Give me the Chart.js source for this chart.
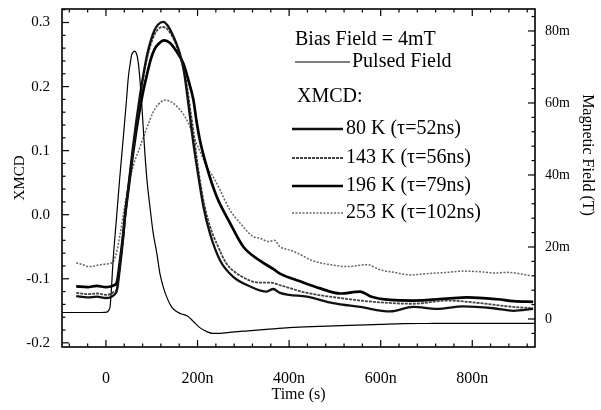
<!DOCTYPE html>
<html><head><meta charset="utf-8">
<script src="https://cdn.jsdelivr.net/npm/chart.js@4/dist/chart.umd.min.js"></script>
<style>html,body{margin:0;padding:0;background:#fff}canvas{display:block}</style>
</head><body>
<canvas id="c" width="601" height="410"></canvas>
<script>
// ---------- tick labels ----------
const xTickValues = [0, 200, 400, 600, 800];
const xTickLabels = ['0', '200n', '400n', '600n', '800n'];
const yTickValues = [-0.2, -0.1, 0, 0.1, 0.2, 0.3];
const yTickLabels = ['-0.2', '-0.1', '0.0', '0.1', '0.2', '0.3'];
const y2TickValues = [0, 20, 40, 60, 80];
const y2TickLabels = ['0', '20m', '40m', '60m', '80m'];
const xTitle = 'Time (s)';
const yTitle = 'XMCD';
const y2Title = 'Magnetic Field (T)';
const legendHeader = 'Bias Field = 4mT';
const legendGroupTitle = 'XMCD:';
const seriesLabels = ['Pulsed Field', '80 K (τ=52ns)', '143 K (τ=56ns)', '196 K (τ=79ns)', '253 K (τ=102ns)'];

// ---------- series (time in ns) ----------
const pulseTime = [-96,-50,-10,2,6,9,16,23,30,38,44,49,53,56,60,63,66,69,73,78,85,90,96,103,111,118,126,133,144,155,165,178,191,205,220,234,250,265,280,310,350,400,450,530,600,650,700,780,850,937];
const pulseField = [1.8,1.8,1.8,1.9,2.4,3.4,17,28,39,50.6,59.5,67.3,71,73.3,74.2,74.4,73.9,72.5,68.3,60,46,38,31.2,24,18.3,12.5,8.5,6.0,3.2,2.0,1.4,0.8,-0.7,-2.4,-3.5,-4.0,-4.0,-3.8,-3.6,-3.3,-2.9,-2.4,-2.1,-1.8,-1.5,-1.3,-1.25,-1.2,-1.2,-1.2];

const t80K = [-65,-40,-20,0,10,18,24,31,37,42,50,58,66,74,82,90,98,106,114,125,135,145,155,162,170,176,184,191,202,213,227,249,278,315,351,365,380,400,439,496,555,621,671,723,780,846,890,933];
const v80K = [-0.127,-0.129,-0.128,-0.130,-0.129,-0.125,-0.118,-0.08,-0.04,0.0,0.05,0.10,0.145,0.185,0.22,0.25,0.272,0.288,0.297,0.301,0.295,0.282,0.265,0.25,0.225,0.195,0.15,0.111,0.059,0.012,-0.029,-0.071,-0.097,-0.112,-0.120,-0.116,-0.122,-0.125,-0.128,-0.138,-0.144,-0.151,-0.144,-0.147,-0.143,-0.146,-0.150,-0.147];

const t143K = [-65,-40,-20,0,10,18,24,31,37,42,50,58,66,74,82,90,98,106,114,125,135,145,155,165,176,184,191,198,206,215,228,245,262,293,336,360,380,439,511,584,671,745,817,890,933];
const v143K = [-0.122,-0.124,-0.123,-0.125,-0.124,-0.120,-0.115,-0.075,-0.038,0.0,0.048,0.095,0.14,0.18,0.215,0.245,0.266,0.281,0.29,0.293,0.289,0.278,0.262,0.24,0.205,0.165,0.13,0.09,0.05,0.015,-0.02,-0.05,-0.075,-0.095,-0.106,-0.106,-0.110,-0.122,-0.130,-0.136,-0.139,-0.134,-0.138,-0.144,-0.146];

const t196K = [-65,-40,-20,0,10,18,24,31,37,42,50,58,66,74,82,90,98,106,114,127,140,154,169,180,191,198,205,220,242,271,300,337,366,380,424,468,511,555,580,621,671,745,789,855,890,933];
const v196K = [-0.112,-0.113,-0.111,-0.113,-0.112,-0.110,-0.105,-0.07,-0.035,0.0,0.045,0.09,0.13,0.165,0.195,0.22,0.243,0.258,0.266,0.272,0.268,0.255,0.236,0.21,0.179,0.145,0.117,0.075,0.028,-0.013,-0.050,-0.072,-0.085,-0.092,-0.104,-0.115,-0.123,-0.120,-0.128,-0.133,-0.134,-0.131,-0.129,-0.132,-0.135,-0.136];

const t253K = [-65,-50,-39,-25,-13,0,13,22,31,45,59,74,89,103,114,129,145,155,168,180,190,200,212,220,235,249,260,271,282,293,307,321,337,355,368,380,395,409,424,452,490,527,570,599,630,664,700,745,780,817,850,876,927];
const v253K = [-0.075,-0.078,-0.081,-0.080,-0.078,-0.077,-0.075,-0.062,-0.03,0.03,0.075,0.105,0.135,0.160,0.172,0.179,0.175,0.169,0.158,0.143,0.125,0.108,0.088,0.075,0.058,0.039,0.022,0.007,-0.004,-0.013,-0.025,-0.034,-0.037,-0.042,-0.040,-0.050,-0.054,-0.057,-0.062,-0.072,-0.078,-0.081,-0.078,-0.086,-0.090,-0.094,-0.092,-0.090,-0.088,-0.089,-0.091,-0.090,-0.095];

const pts = (xs, ys) => xs.map((x, i) => ({x: x, y: ys[i]}));
const SERIF = "'Liberation Serif', 'Times New Roman', serif";

const styles = [
  {color: '#000', width: 1.2, dash: []},
  {color: '#111', width: 2.3, dash: []},
  {color: '#444', width: 1.8, dash: [3, 1]},
  {color: '#000', width: 2.7, dash: []},
  {color: '#666', width: 1.5, dash: [2, 1.5]}
];
const seriesData = [pts(pulseTime, pulseField), pts(t80K, v80K), pts(t143K, v143K), pts(t196K, v196K), pts(t253K, v253K)];

const datasets = seriesData.map((d, i) => ({
  label: seriesLabels[i],
  data: d,
  yAxisID: i === 0 ? 'y1' : 'y',
  borderColor: styles[i].color,
  borderWidth: styles[i].width,
  borderDash: styles[i].dash,
  pointRadius: 0,
  fill: false,
  cubicInterpolationMode: 'monotone'
}));

const framePlugin = {
  id: 'frameTicks',
  afterDatasetsDraw(chart) {
    const {ctx, chartArea: a, scales} = chart;
    ctx.save();
    ctx.strokeStyle = '#000';
    ctx.lineWidth = 1.6;
    ctx.setLineDash([]);
    ctx.strokeRect(a.left, a.top, a.right - a.left, a.bottom - a.top);
    ctx.lineWidth = 1.2;
    const sx = scales.x, sy = scales.y, sy2 = scales.y1;
    const tick = (x1, y1, x2, y2) => { ctx.beginPath(); ctx.moveTo(x1, y1); ctx.lineTo(x2, y2); ctx.stroke(); };
    for (let v = -80; v <= 920; v += 40) {
      const p = sx.getPixelForValue(v);
      const len = xTickValues.includes(v) ? 7 : 3.5;
      tick(p, a.bottom, p, a.bottom - len);
      tick(p, a.top, p, a.top + len);
    }
    for (let k = -10; k <= 16; k++) {
      const p = sy.getPixelForValue(k * 0.02);
      const len = (k % 5 === 0) ? 7 : 3.5;
      tick(a.left, p, a.left + len, p);
    }
    for (let v = -4; v <= 84; v += 4) {
      const p = sy2.getPixelForValue(v);
      const len = y2TickValues.includes(v) ? 7 : 3.5;
      tick(a.right, p, a.right - len, p);
    }
    ctx.restore();
  },
  afterDraw(chart) {
    const {ctx} = chart;
    ctx.save();
    ctx.fillStyle = '#000';
    ctx.font = '16px ' + SERIF;
    ctx.textAlign = 'center';
    ctx.textBaseline = 'middle';
    ctx.translate(587, 155);
    ctx.rotate(Math.PI / 2);
    ctx.fillText(y2Title, 0, 0);
    ctx.restore();

    ctx.save();
    ctx.fillStyle = '#000';
    ctx.font = '20px ' + SERIF;
    ctx.textAlign = 'left';
    ctx.textBaseline = 'middle';
    ctx.fillText(legendHeader, 295, 40);
    const ds = chart.data.datasets;
    const drawEntry = (i, x1, x2, tx, y) => {
      ctx.save();
      ctx.strokeStyle = ds[i].borderColor;
      ctx.lineWidth = ds[i].borderWidth;
      ctx.setLineDash(ds[i].borderDash);
      ctx.beginPath(); ctx.moveTo(x1, y); ctx.lineTo(x2, y); ctx.stroke();
      ctx.restore();
      ctx.fillText(ds[i].label, tx, y);
    };
    drawEntry(0, 295, 350, 352, 62);
    ctx.fillText(legendGroupTitle, 297, 97);
    const rows = [129, 158, 186, 213];
    for (let i = 1; i <= 4; i++) drawEntry(i, 292, 343, 346, rows[i - 1]);
    ctx.restore();
  }
};

new Chart(document.getElementById('c'), {
  type: 'line',
  data: {datasets: datasets},
  plugins: [framePlugin],
  options: {
    responsive: false,
    animation: false,
    layout: {padding: {top: 9, left: 0, right: 0, bottom: 0}},
    plugins: {legend: {display: false}, tooltip: {enabled: false}},
    scales: {
      x: {
        type: 'linear', position: 'bottom', min: -96, max: 937,
        afterBuildTicks: s => { s.ticks = xTickValues.map(v => ({value: v})); },
        afterFit: s => { s.height = 63; s.paddingLeft = 0; s.paddingRight = 0; },
        ticks: {callback: (v, i) => xTickLabels[i], font: {family: SERIF, size: 16}, color: '#000', padding: 22, maxRotation: 0, autoSkip: false},
        grid: {display: false, drawTicks: false},
        border: {display: false},
        title: {display: true, text: xTitle, font: {family: SERIF, size: 16}, color: '#000', padding: {top: 0, bottom: 6}}
      },
      y: {
        type: 'linear', position: 'left', min: -0.2065, max: 0.3211,
        afterBuildTicks: s => { s.ticks = yTickValues.map(v => ({value: v})); },
        afterFit: s => { s.width = 62; s.paddingTop = 0; s.paddingBottom = 0; },
        ticks: {callback: (v, i) => yTickLabels[i], font: {family: SERIF, size: 15}, color: '#000', padding: 12, autoSkip: false},
        grid: {display: false, drawTicks: false},
        border: {display: false},
        title: {display: true, text: yTitle, font: {family: SERIF, size: 15}, color: '#000', padding: {top: 11, bottom: 0}}
      },
      y1: {
        type: 'linear', position: 'right', min: -7.78, max: 86.1,
        afterBuildTicks: s => { s.ticks = y2TickValues.map(v => ({value: v})); },
        afterFit: s => { s.width = 66; s.paddingTop = 0; s.paddingBottom = 0; },
        ticks: {callback: (v, i) => y2TickLabels[i], font: {family: SERIF, size: 14}, color: '#000', padding: 10, autoSkip: false},
        grid: {display: false, drawTicks: false},
        border: {display: false}
      }
    }
  }
});
</script>
</body></html>
